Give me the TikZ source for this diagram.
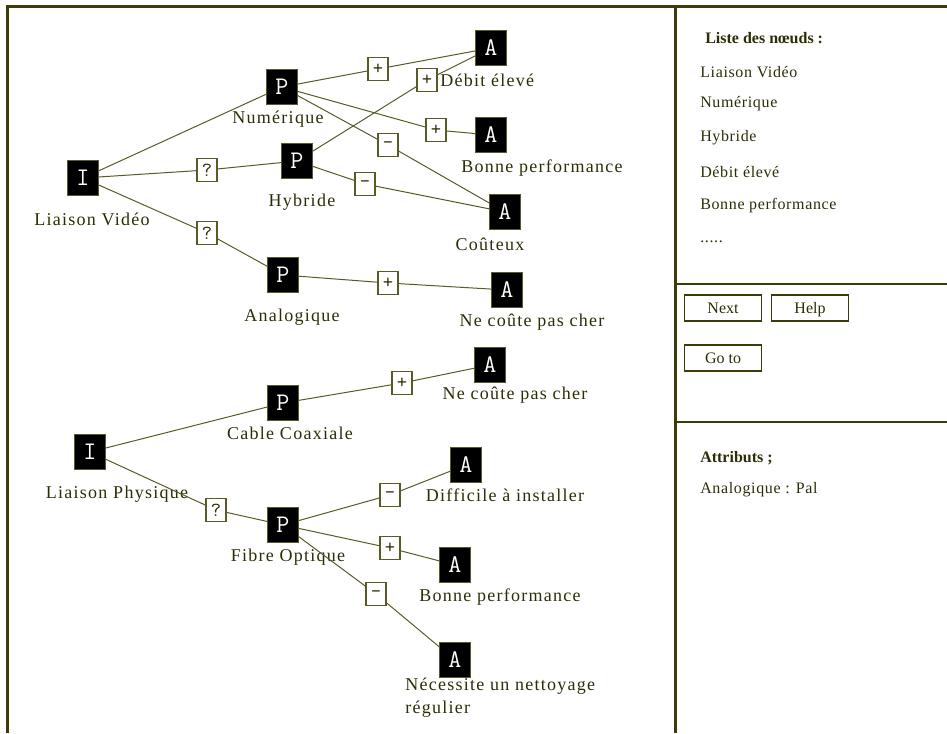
\documentclass[tikz,border=0pt]{standalone}
\usepackage{fontspec}
\setmainfont{Liberation Serif}
\definecolor{frm}{RGB}{60,60,10}
\definecolor{lin}{RGB}{90,90,40}
\definecolor{txt}{RGB}{45,45,5}
\begin{document}
\begin{tikzpicture}[x=0.75pt,y=-0.75pt,
  blk/.style={fill=black,draw=lin,line width=0.6pt,minimum width=23pt,minimum height=26pt,inner sep=0pt,text=white,font={\ttfamily\fontsize{19}{19}\selectfont}},
  sgn/.style={fill=white,draw=lin,line width=0.8pt,minimum width=15pt,minimum height=17pt,inner sep=0pt,text=txt,font={\ttfamily\fontsize{15}{15}\selectfont}},
  lbl/.style={text=txt,inner sep=0pt,font={\fontsize{13.5}{17}\selectfont\addfontfeatures{LetterSpace=7}}},
  conn/.style={draw=lin,line width=0.75pt},
  frameline/.style={draw=frm,line width=1.6pt},
  side/.style={text=txt,anchor=west,inner sep=0pt,font={\fontsize{12}{13}\selectfont\addfontfeatures{LetterSpace=4}}},
  btn/.style={draw=frm,line width=0.9pt,text=txt,minimum width=57.75pt,minimum height=19.5pt,inner sep=0pt,text height=8.2pt,text depth=0pt,font={\fontsize{12}{13}\selectfont}}
]
\useasboundingbox (0,0) rectangle (947,733);
% frame
\draw[frameline] (7.5,733) -- (7.5,6.5) -- (947,6.5);
\draw[frameline] (675.5,6.5) -- (675.5,733);
\draw[frameline] (675.5,284) -- (947,284);
\draw[frameline] (675.5,422) -- (947,422);

% ---- top tree nodes
\node[blk] (I1) at (83,178) {I};
\node[blk] (Num) at (282,87) {P};
\node[blk] (Hyb) at (297,161) {P};
\node[blk] (Ana) at (283,275) {P};
\node[blk] (Deb) at (491,48) {A};
\node[blk] (Bon) at (491,135) {A};
\node[blk] (Cou) at (505,212) {A};
\node[blk] (Nec1) at (507,290) {A};

\node[sgn] (s1) at (378,69) {+};
\node[sgn] (s2) at (427,80) {+};
\node[sgn] (s3) at (436,130) {+};
\node[sgn] (s4) at (388,145) {-};
\node[sgn] (s5) at (365,184) {-};
\node[sgn] (s6) at (207,170) {?};
\node[sgn] (s7) at (207,233) {?};
\node[sgn] (s8) at (388,283) {+};

\node[lbl] (lI1) at (92,219) {Liaison Vidéo};
\node[lbl] (lNum) at (278,119) {Numérique};
\node[lbl] (lHyb) at (302,202) {Hybride};
\node[lbl] (lAna) at (292,317) {Analogique};
\node[lbl,anchor=west] (lDeb) at (440,80) {Débit élevé};
\node[lbl] (lBon) at (542,168) {Bonne performance};
\node[lbl] (lCou) at (490,244) {Coûteux};
\node[lbl] (lNec1) at (532,322) {Ne coûte pas cher};

% top tree connectors
\draw[conn] (I1) -- (Num);
\draw[conn] (I1) -- (s6) -- (Hyb);
\draw[conn] (I1) -- (s7) -- (Ana);
\draw[conn] (Num) -- (s1) -- (Deb);
\draw[conn] (Hyb) -- (s2) -- (Deb);
\draw[conn] (Num) -- (s3) -- (Bon);
\draw[conn] (Num) -- (s4) -- (Cou);
\draw[conn] (Hyb) -- (s5) -- (Cou);
\draw[conn] (Ana) -- (s8) -- (Nec1);

% ---- bottom tree nodes
\node[blk] (I2) at (90,452) {I};
\node[blk] (Cab) at (283,403) {P};
\node[blk] (Fib) at (283,525) {P};
\node[blk] (Nec2) at (490,365) {A};
\node[blk] (Dif) at (466,465) {A};
\node[blk] (Bon2) at (455,565) {A};
\node[blk] (Net) at (455,660) {A};

\node[sgn] (t1) at (402,383) {+};
\node[sgn] (t2) at (216,510) {?};
\node[sgn] (t3) at (390,495) {-};
\node[sgn] (t4) at (390,548) {+};
\node[sgn] (t5) at (376,594) {-};

\node[lbl] (lI2) at (117,494) {Liaison Physique};
\node[lbl] (lCab) at (290,433) {Cable Coaxiale};
\node[lbl] (lFib) at (288,557) {Fibre Optique};
\node[lbl] (lNec2) at (515,395) {Ne coûte pas cher};
\node[lbl] (lDif) at (505,495) {Difficile à installer};
\node[lbl] (lBon2) at (500,597) {Bonne performance};
\node[lbl,anchor=north west,align=left] (lNet) at (405,678) {Nécessite un nettoyage\\régulier};

\draw[conn] (I2) -- (Cab);
\draw[conn] (Cab) -- (t1) -- (Nec2);
\draw[conn] (I2) -- (t2) -- (Fib);
\draw[conn] (Fib) -- (t3) -- (Dif);
\draw[conn] (Fib) -- (t4) -- (Bon2);
\draw[conn] (Fib) -- (t5) -- (Net);

% ---- right panel
\node[side,font={\bfseries\fontsize{12}{13}\selectfont}] (h1) at (705,38) {Liste des nœuds :};
\node[side] (r1) at (700,72) {Liaison Vidéo};
\node[side] (r2) at (700,104) {Numérique};
\node[side] (r3) at (700,138) {Hybride};
\node[side] (r4) at (700,172) {Débit élevé};
\node[side] (r5) at (700,206) {Bonne performance};
\node[side] (r6) at (700,242) {.....};

\node[btn] (bNext) at (723,308) {Next};
\node[btn] (bHelp) at (810,308) {Help};
\node[btn] (bGo) at (723,358) {Go to};

\node[side,font={\bfseries\fontsize{12}{13}\selectfont}] (h2) at (700,458) {Attributs ;};
\node[side] (r7) at (700,490) {Analogique : Pal};
\end{tikzpicture}
\end{document}
